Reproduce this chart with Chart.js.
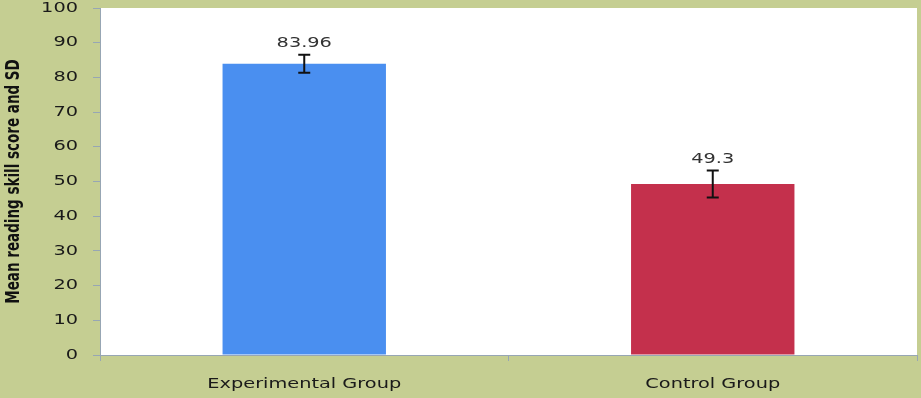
<!DOCTYPE html>
<html>
<head>
<meta charset="utf-8">
<script src="https://cdn.jsdelivr.net/npm/chart.js@4/dist/chart.umd.min.js"></script>
<style>
  html, body { margin: 0; padding: 0; background: #c5ce92; }
  #wrap { width: 921px; height: 398px; position: relative; }
</style>
</head>
<body>
<div id="wrap"><canvas id="chart"></canvas></div>
<script>
// data
const groups = ['Experimental Group', 'Control Group'];
const means  = [83.96, 49.3];
const sds    = [2.6, 3.9];
const labels = ['83.96', '49.3'];
const barColors = ['#4a8ff0', '#c4304c'];
const yTicks = [0, 10, 20, 30, 40, 50, 60, 70, 80, 90, 100];
const yTitle = 'Mean reading skill score and SD';

const AXIS = '#97a6b4';
const STRETCH = 1.38; // the source image is widened, so text is drawn wider

function wideText(ctx, text, x, y, align, font, color) {
  ctx.save();
  ctx.font = font;
  ctx.fillStyle = color;
  ctx.textBaseline = 'middle';
  const w = ctx.measureText(text).width * STRETCH;
  let left = x;
  if (align === 'center') left = x - w / 2;
  if (align === 'right') left = x - w;
  ctx.translate(left, y);
  ctx.scale(STRETCH, 1);
  ctx.textAlign = 'left';
  ctx.fillText(text, 0, 0);
  ctx.restore();
}

// white plotting area on the khaki background
const plotBg = {
  id: 'plotBg',
  beforeDraw(chart) {
    const { ctx, chartArea: a } = chart;
    ctx.save();
    ctx.fillStyle = '#ffffff';
    ctx.fillRect(a.left, a.top, a.right - a.left, a.bottom - a.top);
    ctx.restore();
  }
};

// tick labels + axis title, drawn widened at the scales' own positions
const axisText = {
  id: 'axisText',
  afterDraw(chart) {
    const { ctx, scales } = chart;
    yTicks.forEach(v => {
      wideText(ctx, String(v), scales.y.right - 22, scales.y.getPixelForValue(v),
        'right', '14px "DejaVu Sans"', '#1a1a1a');
    });
    groups.forEach((g, i) => {
      wideText(ctx, g, scales.x.getPixelForValue(i), scales.x.top + 29,
        'center', '14px "DejaVu Sans"', '#1a1a1a');
    });
    // rotated title
    ctx.save();
    ctx.font = 'bold 15px "DejaVu Sans Condensed"';
    ctx.fillStyle = '#111';
    ctx.translate(14, (scales.y.top + scales.y.bottom) / 2);
    ctx.rotate(-Math.PI / 2);
    ctx.scale(1, 1.25);
    ctx.textAlign = 'center';
    ctx.textBaseline = 'middle';
    ctx.fillText(yTitle, 0, 0);
    ctx.restore();
  }
};

// SD whiskers + value labels
const errorBars = {
  id: 'errorBars',
  afterDatasetsDraw(chart) {
    const { ctx, scales } = chart;
    const meta = chart.getDatasetMeta(0);
    meta.data.forEach((bar, i) => {
      const x = bar.x;
      const yHi = scales.y.getPixelForValue(means[i] + sds[i]);
      const yLo = scales.y.getPixelForValue(means[i] - sds[i]);
      ctx.save();
      ctx.strokeStyle = '#111';
      ctx.lineWidth = 2;
      ctx.beginPath();
      ctx.moveTo(x, yHi); ctx.lineTo(x, yLo);
      ctx.moveTo(x - 6, yHi); ctx.lineTo(x + 6, yHi);
      ctx.moveTo(x - 6, yLo); ctx.lineTo(x + 6, yLo);
      ctx.stroke();
      ctx.restore();
      wideText(ctx, labels[i], x, yHi - 11, 'center', '14px "DejaVu Sans"', '#333');
    });
  }
};

new Chart(document.getElementById('chart'), {
  type: 'bar',
  data: {
    labels: groups,
    datasets: [{
      data: means,
      backgroundColor: barColors,
      borderWidth: 0,
      barPercentage: 0.4,
      categoryPercentage: 1.0
    }]
  },
  options: {
    responsive: true,
    maintainAspectRatio: false,
    animation: false,
    devicePixelRatio: 1,
    layout: { padding: { top: 8, right: 4, left: 0, bottom: 0 } },
    plugins: { legend: { display: false }, tooltip: { enabled: false } },
    scales: {
      x: {
        grid: { display: true, drawOnChartArea: false, offset: true, color: AXIS, tickLength: 6 },
        border: { color: AXIS, width: 1 },
        ticks: { display: false },
        afterFit(s) { s.height = 43; }
      },
      y: {
        min: 0, max: 100,
        afterBuildTicks(s) { s.ticks = yTicks.map(v => ({ value: v })); },
        grid: { display: true, drawOnChartArea: false, color: AXIS, tickLength: 7 },
        border: { color: AXIS, width: 1 },
        ticks: { display: false },
        afterFit(s) { s.width = 100; }
      }
    }
  },
  plugins: [plotBg, errorBars, axisText]
});
</script>
</body>
</html>
